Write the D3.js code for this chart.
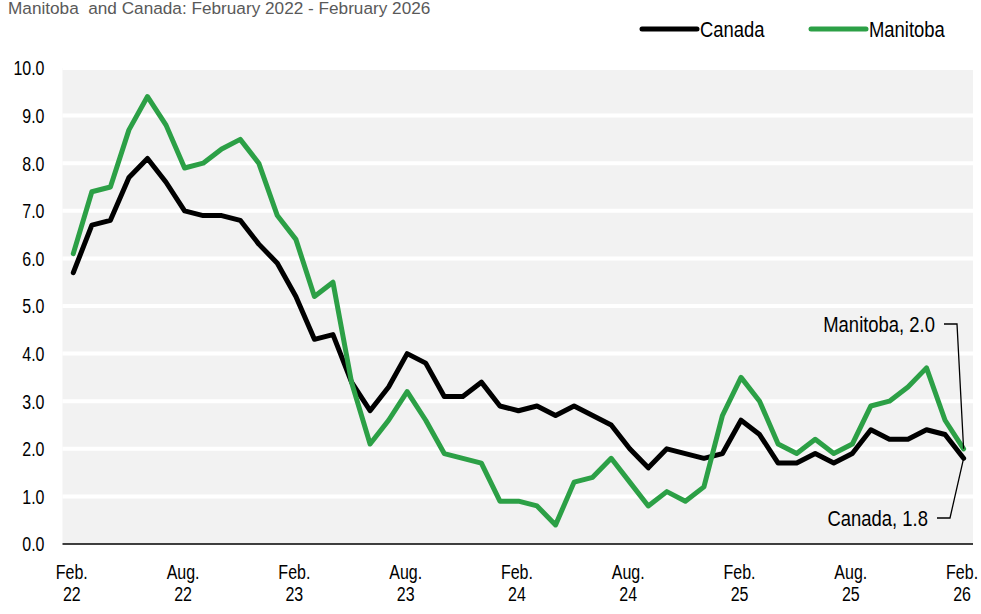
<!DOCTYPE html>
<html><head><meta charset="utf-8">
<script src="https://cdn.jsdelivr.net/npm/d3@7"></script>
<style>
body{margin:0;background:#fff;}
svg{display:block;}
.nar{font-family:'Liberation Sans Narrow','Arial Narrow','Liberation Sans',Arial,sans-serif;}
</style></head>
<body>
<svg id="c" width="981" height="614"></svg>
<script>
const months = ["Feb 22","Mar 22","Apr 22","May 22","Jun 22","Jul 22","Aug 22","Sep 22","Oct 22","Nov 22","Dec 22",
"Jan 23","Feb 23","Mar 23","Apr 23","May 23","Jun 23","Jul 23","Aug 23","Sep 23","Oct 23","Nov 23","Dec 23",
"Jan 24","Feb 24","Mar 24","Apr 24","May 24","Jun 24","Jul 24","Aug 24","Sep 24","Oct 24","Nov 24","Dec 24",
"Jan 25","Feb 25","Mar 25","Apr 25","May 25","Jun 25","Jul 25","Aug 25","Sep 25","Oct 25","Nov 25","Dec 25",
"Jan 26","Feb 26"];
const canada = [5.7,6.7,6.8,7.7,8.1,7.6,7.0,6.9,6.9,6.8,6.3,
5.9,5.2,4.3,4.4,3.4,2.8,3.3,4.0,3.8,3.1,3.1,3.4,
2.9,2.8,2.9,2.7,2.9,2.7,2.5,2.0,1.6,2.0,1.9,1.8,
1.9,2.6,2.3,1.7,1.7,1.9,1.7,1.9,2.4,2.2,2.2,2.4,
2.3,1.8];
const manitoba = [6.1,7.4,7.5,8.7,9.4,8.8,7.9,8.0,8.3,8.5,8.0,
6.9,6.4,5.2,5.5,3.4,2.1,2.6,3.2,2.6,1.9,1.8,1.7,
0.9,0.9,0.8,0.4,1.3,1.4,1.8,1.3,0.8,1.1,0.9,1.2,
2.7,3.5,3.0,2.1,1.9,2.2,1.9,2.1,2.9,3.0,3.3,3.7,
2.6,2.0];
const yTicks = [0,1,2,3,4,5,6,7,8,9,10];
const xTickIdx = [0,6,12,18,24,30,36,42,48];
const xTickLabels = [["Feb.","22"],["Aug.","22"],["Feb.","23"],["Aug.","23"],["Feb.","24"],["Aug.","24"],["Feb.","25"],["Aug.","25"],["Feb.","26"]];
const seriesNames = ["Canada","Manitoba"];
const colors = {Canada:"#000000", Manitoba:"#2ca046"};
const titleText = "Manitoba  and Canada: February 2022 - February 2026";
const sourceText = "Source: Statistics Canada, Table 18-10-0004-01";

const SX = 0.82; // horizontal condensing to mimic a narrow face
const svg = d3.select("#c");
const plot = {left:62.5, right:973, top:68, bottom:544};
const x = d3.scaleLinear().domain([0, months.length-1]).range([73.3, 963.6]);
const y = d3.scaleLinear().domain([0,10]).range([plot.bottom, plot.top]);

function narText(px, py, str, size, anchor){
  return svg.append("g").attr("transform",`translate(${px},${py}) scale(${SX},1)`)
    .append("text").attr("class","nar").attr("x",0).attr("y",0).attr("dy","0.35em")
    .attr("text-anchor",anchor||"start").style("font-size",size+"px").attr("fill","#000").text(str);
}

svg.append("text").attr("x",8).attr("y",14).attr("fill","#595959")
  .style("font-family","'Liberation Sans',Arial,sans-serif").style("font-size","17.2px").style("white-space","pre")
  .text(titleText);
svg.append("text").attr("x",8).attr("y",626).attr("fill","#595959")
  .style("font-family","'Liberation Sans',Arial,sans-serif").style("font-size","17.2px")
  .text(sourceText);

svg.append("rect").attr("x",plot.left).attr("y",plot.top).attr("width",plot.right-plot.left).attr("height",plot.bottom-plot.top).attr("fill","#f2f2f2");

// gridlines
svg.append("g").selectAll("line").data(yTicks.filter(d=>d>0)).join("line")
  .attr("x1",plot.left).attr("x2",plot.right).attr("y1",d=>y(d)).attr("y2",d=>y(d))
  .attr("stroke","#ffffff").attr("stroke-width",4);

// y axis labels
const yAxis = d3.axisLeft(y).tickValues(yTicks).tickFormat(d3.format(".1f")).tickSize(0).tickPadding(0);
const yg = svg.append("g").attr("transform","translate(44.5,0)").call(yAxis);
yg.select(".domain").remove();
yg.selectAll("text").attr("class","nar").attr("x",0).attr("transform",`scale(${SX},1)`)
  .style("font-size","19.5px").attr("fill","#000").attr("dy","0.35em");

// x axis
const xAxis = d3.axisBottom(x).tickValues(xTickIdx).tickSize(0).tickFormat("");
const xg = svg.append("g").attr("transform",`translate(0,${plot.bottom})`).call(xAxis);
xg.select(".domain").remove();
svg.append("line").attr("x1",plot.left).attr("x2",plot.right).attr("y1",plot.bottom).attr("y2",plot.bottom).attr("stroke","#000").attr("stroke-width",1.5);
xg.selectAll(".tick").each(function(d,i){
  const t = d3.select(this).append("text").attr("class","nar").attr("text-anchor","middle")
    .attr("transform",`translate(-2,0) scale(${SX},1)`)
    .attr("fill","#000").style("font-size","19.5px");
  t.append("tspan").attr("x",0).attr("y",35).text(xTickLabels[i][0]);
  t.append("tspan").attr("x",0).attr("y",57).text(xTickLabels[i][1]);
});

// lines
const line = d3.line().x((d,i)=>x(i)).y(d=>y(d));
const seriesData = {Canada:canada, Manitoba:manitoba};
["Canada","Manitoba"].forEach(n=>{
  svg.append("path").datum(seriesData[n]).attr("d",line).attr("fill","none")
    .attr("stroke",colors[n]).attr("stroke-width",5).attr("stroke-linejoin","round").attr("stroke-linecap","round");
});

// annotations
const last = months.length-1;
const ann = [
  {name:"Manitoba", val:manitoba[last], ty:324, tx:935},
  {name:"Canada", val:canada[last], ty:518, tx:928}
];
ann.forEach(a=>{
  narText(a.tx, a.ty, `${a.name}, ${d3.format(".1f")(a.val)}`, 22.5, "end");
  svg.append("polyline").attr("points",`${a.tx+9},${a.ty} ${a.tx+22},${a.ty} ${x(last)},${y(a.val)}`)
    .attr("fill","none").attr("stroke","#000").attr("stroke-width",1.3);
});

// legend
const legX = {Canada:642, Manitoba:811};
seriesNames.forEach(n=>{
  svg.append("line").attr("x1",legX[n]).attr("x2",legX[n]+55).attr("y1",29).attr("y2",29)
    .attr("stroke",colors[n]).attr("stroke-width",5).attr("stroke-linecap","round");
  narText(legX[n]+58, 29, n, 22.5, "start");
});
</script>
</body></html>
